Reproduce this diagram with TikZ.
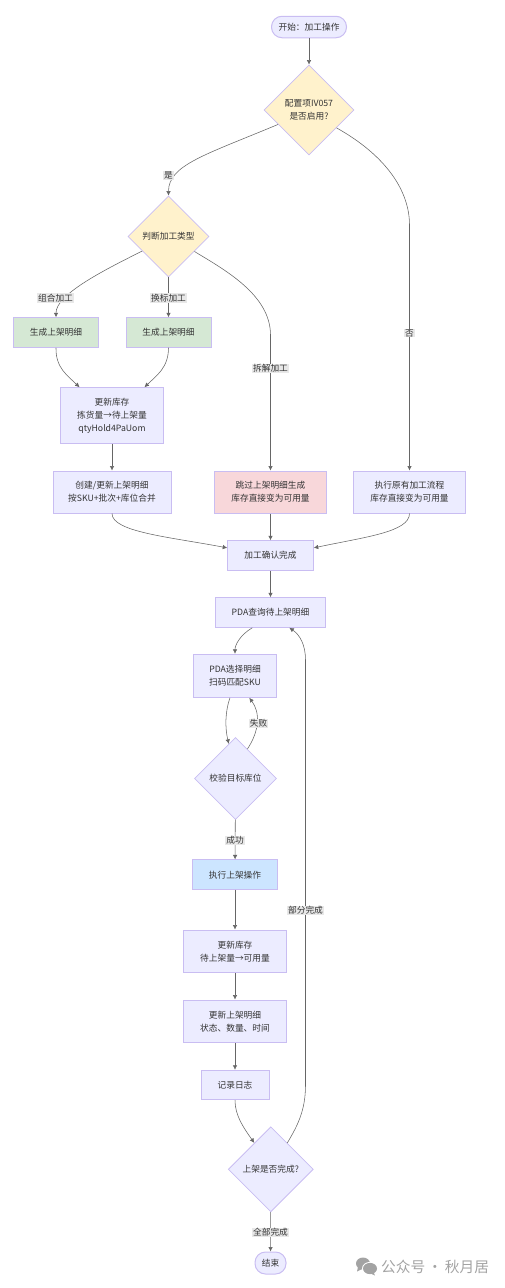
\documentclass[tikz,border=0pt]{standalone}
\usepackage{fontspec}
\setmainfont{Noto Sans CJK SC}
\usepackage{xcolor}
\usetikzlibrary{arrows.meta,shapes.geometric}
\definecolor{plain}{HTML}{ECECFF}
\definecolor{cond}{HTML}{FFF2CC}
\definecolor{gen}{HTML}{D5E8D4}
\definecolor{bypassred}{HTML}{F8D7DA}
\definecolor{shelf}{HTML}{CCE5FF}
\definecolor{rim}{HTML}{C9BDF2}
\definecolor{ink}{HTML}{333333}
\definecolor{wire}{HTML}{666666}
\definecolor{tagbg}{HTML}{E8E8E8}
\definecolor{wmgray}{HTML}{A3A3A3}
\tikzset{
  >={Latex[length=4.5pt,width=4.5pt]},
  every node/.style={font=\fontsize{8.7}{13}\selectfont,text=ink},
  box/.style={draw=rim,line width=1pt,fill=plain,align=center,inner sep=0pt,minimum height=29.5pt},
  genbox/.style={box,fill=gen},
  skipbox/.style={box,fill=bypassred},
  shelfbox/.style={box,fill=shelf},
  term/.style={box,rounded corners=10.5pt,minimum height=21.5pt},
  decide/.style={diamond,aspect=1,draw=rim,line width=.8pt,fill=plain,align=center,inner sep=0pt},
  condbox/.style={decide,fill=cond},
  arrow/.style={->,line width=.55pt,draw=wire},
  tag/.style={fill=tagbg,inner xsep=1pt,inner ysep=.5pt},
  wmtext/.style={font=\fontsize{14.7}{15}\selectfont,text=wmgray,inner sep=0pt},
}
\begin{document}
\begin{tikzpicture}[x=1pt,y=-1pt]
  \path[use as bounding box] (0,0) rectangle (504,1288);
  \node[term,minimum width=75pt] (begin) at (309,27) {开始：加工操作};
  \node[condbox,minimum width=90pt,minimum height=90pt] (cfg) at (309,110) {配置项IV057\\是否启用?};
  \node[condbox,minimum width=81pt,minimum height=81pt] (kind) at (168.5,236.5) {判断加工类型};
  \node[genbox,minimum width=85pt] (gena) at (56,332.5) {生成上架明细};
  \node[genbox,minimum width=85pt] (genb) at (168.5,332.5) {生成上架明细};
  \node[box,minimum width=102.5pt,minimum height=55.5pt] (hold) at (112,415.5) {更新库存\\拣货量→待上架量\\qtyHold4PaUom};
  \node[box,minimum width=118pt,minimum height=42pt] (merge) at (112,492) {创建/更新上架明细\\按SKU+批次+库位合并};
  \node[skipbox,minimum width=111.5pt,minimum height=42pt] (bypass) at (270.5,492) {跳过上架明细生成\\库存直接变为可用量};
  \node[box,minimum width=111.5pt,minimum height=42pt] (legacy) at (409.5,492) {执行原有加工流程\\库存直接变为可用量};
  \node[box,minimum width=85.5pt] (confirm) at (270.5,555.5) {加工确认完成};
  \node[box,minimum width=109.5pt] (query) at (270.5,612.5) {PDA查询待上架明细};
  \node[box,minimum width=83pt,minimum height=43pt] (pick) at (235,675.8) {PDA选择明细\\扫码匹配SKU};
  \node[decide,minimum width=82pt,minimum height=82pt] (check) at (235.5,778.5) {校验目标库位};
  \node[shelfbox,minimum width=85pt] (putaway) at (235,874.7) {执行上架操作};
  \node[box,minimum width=103pt,minimum height=42.5pt] (stock) at (235,951.3) {更新库存\\待上架量→可用量};
  \node[box,minimum width=103pt,minimum height=42.5pt] (detail) at (235,1021.3) {更新上架明细\\状态、数量、时间};
  \node[box,minimum width=68pt] (log) at (235,1085) {记录日志};
  \node[decide,minimum width=85pt,minimum height=85pt] (done) at (270.8,1169.3) {上架是否完成?};
  \node[term,minimum width=31pt,minimum height=22pt] (finish) at (270.5,1263) {结束};

  \foreach \a/\b in {begin/cfg,kind/genb,hold/merge,bypass/confirm,confirm/query,check/putaway,putaway/stock,stock/detail,detail/log,done/finish}
    \draw[arrow] (\a) -- (\b);
  \draw[arrow] (cfg.205) .. controls (205,155) and (168.5,165) .. (kind.north);
  \draw[arrow] (cfg.327) .. controls (385,155) and (409.5,190) .. (409.5,225) -- (legacy.north);
  \draw[arrow] (kind.209) .. controls (100,272) and (56,295) .. (gena.north);
  \draw[arrow] (kind.330) .. controls (225,270) and (270.5,295) .. (270.5,335) -- (bypass.north);
  \draw[arrow] (gena.south) .. controls (55.5,368) and (68,376) .. (hold.139);
  \draw[arrow] (genb.south) .. controls (168.5,368) and (156,376) .. (hold.41);
  \draw[arrow] (merge.south) .. controls (112,532) and (170,537) .. (confirm.170);
  \draw[arrow] (legacy.south) .. controls (409.5,532) and (365,537) .. (confirm.10);
  \draw[arrow] (query.220) .. controls (240,635) and (235,645) .. (pick.north);
  \draw[arrow] (pick.257) .. controls (225,712) and (225,728) .. (check.101);
  \draw[arrow] (check.68) .. controls (260,730) and (260,712) .. (pick.303);
  \draw[arrow] (log.south) .. controls (235,1115) and (243,1127) .. (done.122);
  \draw[arrow] (done.58) .. controls (298,1125) and (305.5,1110) .. (305.5,1085) -- (305.5,660) .. controls (305.5,645) and (300,635) .. (query.321);

  \node[tag] (yes) at (168.5,175.5) {是};
  \node[tag] (no) at (409.5,333) {否};
  \node[tag] (combo) at (55.5,298) {组合加工};
  \node[tag] (relabel) at (168.5,298) {换标加工};
  \node[tag] (split) at (270.5,368.5) {拆解加工};
  \node[tag] (fail) at (258.5,723) {失败};
  \node[tag] (pass) at (235,840.5) {成功};
  \node[tag] (part) at (305.5,910.5) {部分完成};
  \node[tag] (all) at (270.5,1232.5) {全部完成};

  % watermark
  \fill[wmgray] (363,1263.5) ellipse (7 and 6);
  \fill[wmgray] (358,1267) -- (357,1271.5) -- (362,1269) -- cycle;
  \fill[white] (370,1268.5) ellipse (8 and 6.6);
  \fill[wmgray] (370,1268.5) ellipse (7 and 5.6);
  \fill[wmgray] (373.5,1272) -- (375,1275.5) -- (370.5,1273.5) -- cycle;
  \node[wmtext,anchor=west] (wechat) at (381,1267) {公众号\,·\,秋月居};
\end{tikzpicture}
\end{document}
